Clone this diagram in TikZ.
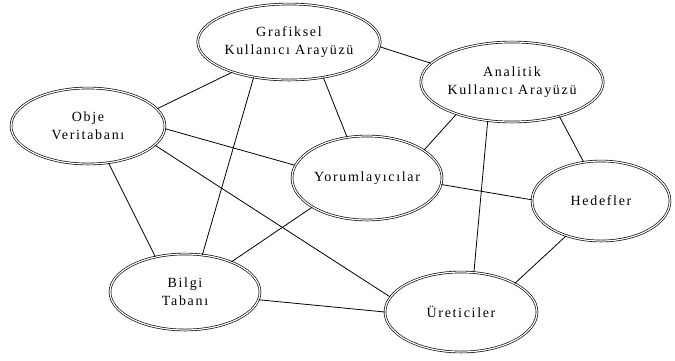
\documentclass[tikz,border=0pt]{standalone}
\usepackage{fontspec}
\setmainfont{Liberation Serif}
\newfontfamily\lblfont[LetterSpace=12]{Liberation Serif}
\usetikzlibrary{shapes.geometric}
\tikzset{
  concept/.style={ellipse, draw=black, double=white, double distance=1.2pt,
    line width=0.65pt, inner sep=0pt, align=center,
    font=\lblfont\fontsize{14}{18}\selectfont},
  link/.style={draw=black, line width=0.8pt}
}
\begin{document}
\begin{tikzpicture}[x=1pt,y=-1pt]
\useasboundingbox (0,0) rectangle (675,360);

% concept ellipses
\node[concept, minimum width=148pt, minimum height=76pt] (gui) at (289,42) {Grafiksel\\Kullanıcı Arayüzü};
\node[concept, minimum width=154pt, minimum height=76pt] (obj) at (88,126) {Obje\\Veritabanı};
\node[concept, minimum width=150pt, minimum height=80pt] (ana) at (512,82) {Analitik\\Kullanıcı Arayüzü};
\node[concept, minimum width=150pt, minimum height=84pt] (yor) at (367,178) {Yorumlayıcılar};
\node[concept, minimum width=138pt, minimum height=80pt] (hed) at (601,201) {Hedefler};
\node[concept, minimum width=150pt, minimum height=76pt] (bil) at (185,292) {Bilgi\\Tabanı};
\node[concept, minimum width=152pt, minimum height=80pt] (ure) at (461,312) {Üreticiler};

% connections
\path[link] (obj.14.6) -- (gui.208);
\path[link] (obj.358) -- (yor.170);
\path[link] (obj.344) -- (ure.168);
\path[link] (obj.299) -- (bil.130);
\path[link] (gui.225) -- (bil.65);
\path[link] (gui.314) -- (yor.116);
\path[link] (gui.357) -- (ana.167);
\path[link] (ana.210) -- (yor.26);
\path[link] (ana.238) -- (ure.72);
\path[link] (ana.324) -- (hed.114);
\path[link] (yor.355.5) -- (hed.179);
\path[link] (yor.208) -- (bil.33);
\path[link] (bil.354) -- (ure.180);
\path[link] (hed.225) -- (ure.28);
\end{tikzpicture}
\end{document}
